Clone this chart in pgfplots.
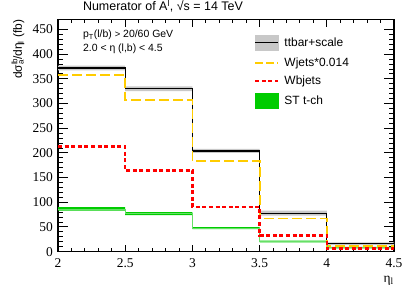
\documentclass[border=0pt]{standalone}
\usepackage{fontspec}
\setmainfont{Liberation Sans}
\newfontfamily\rootserif{Liberation Serif}
\usepackage{pgfplots}
\pgfplotsset{compat=1.18}
\usepgfplotslibrary{fillbetween}
\definecolor{wjets}{RGB}{255,204,0}
\definecolor{stch}{RGB}{0,204,0}
\definecolor{band}{RGB}{200,200,200}
\begin{document}
\begin{tikzpicture}
\begin{axis}[
  scale only axis, width=336bp, height=232bp,
  xmin=2, xmax=4.5, ymin=0, ymax=470,
  xtick={2,2.5,3,3.5,4,4.5},
  xticklabels={{\rootserif 2},{\rootserif 2.5},{\rootserif 3},{\rootserif 3.5},{\rootserif 4},{\rootserif 4.5}},
  ytick={0,50,...,450},
  yticklabel={\rootserif\pgfmathprintnumber[assume math mode=true]{\tick}},
  minor x tick num=4, minor y tick num=4,
  tick align=inside, xtick pos=both, ytick pos=both,
  xtick style={/pgfplots/major tick length=7bp,/pgfplots/minor tick length=3.5bp, line width=0.9bp, black},
  ytick style={/pgfplots/major tick length=10bp,/pgfplots/minor tick length=5bp, line width=0.9bp, black},
  axis line style={line width=1.2bp},
  /pgf/number format/assume math mode=true,
  xticklabel style={font=\fontsize{13.5}{15}\selectfont, inner sep=0pt, yshift=-7bp},
  yticklabel style={font=\fontsize{13.5}{15}\selectfont, inner sep=0pt, xshift=-5bp},
  xlabel={{\rootserif\fontsize{13.5}{15}\selectfont η\textsubscript{l}}},
  xlabel style={at={(axis description cs:1,0)}, anchor=north east, yshift=-24bp, inner sep=0pt},
  title={{\fontsize{12.5}{14}\selectfont Numerator of A\textsuperscript{l}, √s = 14 TeV}},
  title style={at={(axis description cs:0.074,1)}, anchor=base west, yshift=3bp, inner sep=0pt},
  legend style={at={(rel axis cs:0.583,0.935)}, anchor=north west, draw=none, fill=none, inner sep=0pt,
    font=\fontsize{12}{14}\selectfont, row sep=7.6bp, nodes={inner sep=0pt},
    /tikz/every odd column/.append style={column sep=5bp}},
  legend cell align=left,
  clip=true,
]
% ttbar band
\addplot[const plot, draw=none, name path=tu, forget plot] coordinates {(2,377) (2.5,335) (3,208) (3.5,83) (4,19) (4.5,19)};
\addplot[const plot, draw=none, name path=tl, forget plot] coordinates {(2,367) (2.5,325) (3,200) (3.5,73) (4,13) (4.5,13)};
\addplot[band, forget plot] fill between[of=tu and tl];
% ST band
\addplot[const plot, draw=none, name path=su, forget plot] coordinates {(2,90) (2.5,80) (3,49.5) (3.5,22.5) (4,9.5) (4.5,9.5)};
\addplot[const plot, draw=none, name path=sl, forget plot] coordinates {(2,83) (2.5,74) (3,45.5) (3.5,18.5) (4,6.5) (4.5,6.5)};
\addplot[stch, forget plot] fill between[of=su and sl];
% lines
\addplot[const plot, black, line width=1.2bp, forget plot] coordinates {(2,372) (2.5,330) (3,204) (3.5,78) (4,16) (4.5,16)};
\addplot[const plot, wjets, line width=1.8bp, dash pattern=on 10bp off 4bp, forget plot] coordinates {(2,358) (2.5,307) (3,184) (3.5,67) (4,12) (4.5,12)};
\addplot[const plot, stch!60!white, line width=0.6bp, forget plot] coordinates {(2,86) (2.5,77) (3,47.5) (3.5,20.5) (4,8) (4.5,8)};
\addplot[const plot, red, line width=2.4bp, dash pattern=on 4bp off 2.6bp, forget plot] coordinates {(2,213) (2.5,164) (3,91) (3.5,33) (4,6) (4.5,6)};
% legend
\addlegendimage{legend image code/.code={\fill[band] (0bp,-7.5bp) rectangle (23bp,7.5bp); \draw[black, line width=1.2bp] (0bp,0bp) -- (23bp,0bp);}}
\addlegendentry{ttbar+scale}
\addlegendimage{legend image code/.code={\draw[wjets, line width=1.8bp, dash pattern=on 8bp off 3bp] (0bp,0bp) -- (23bp,0bp);}}
\addlegendentry{Wjets*0.014}
\addlegendimage{legend image code/.code={\draw[red, line width=2.4bp, dash pattern=on 4bp off 2.6bp] (0bp,0bp) -- (23bp,0bp);}}
\addlegendentry{Wbjets}
\addlegendimage{legend image code/.code={\fill[stch] (0bp,-7.5bp) rectangle (23bp,7.5bp);}}
\addlegendentry{ST t-ch}
% annotations
\node[anchor=west, inner sep=0pt, font=\fontsize{10.5}{12}\selectfont] at (rel axis cs:0.074,0.935) {p\textsubscript{T}(l/b) {\fontsize{9.5}{10}\selectfont >} 20/60 GeV};
\node[anchor=west, inner sep=0pt, font=\fontsize{10.5}{12}\selectfont] at (rel axis cs:0.074,0.875) {2.0 < η (l,b) < 4.5};
\end{axis}
\node[rotate=90, anchor=east, inner sep=0pt, font=\fontsize{12}{14}\selectfont] at ([xshift=-40bp]current axis.north west) {dσ\rlap{\textsuperscript{lb}}\textsubscript{a}/dη\textsubscript{l} (fb)};
\path (current axis.south west) ++(-58bp,-48bp) coordinate (bbl);
\path (current axis.north east) ++(21bp,18bp) coordinate (bbr);
\path[use as bounding box] (bbl) rectangle (bbr);
\end{tikzpicture}
\end{document}
